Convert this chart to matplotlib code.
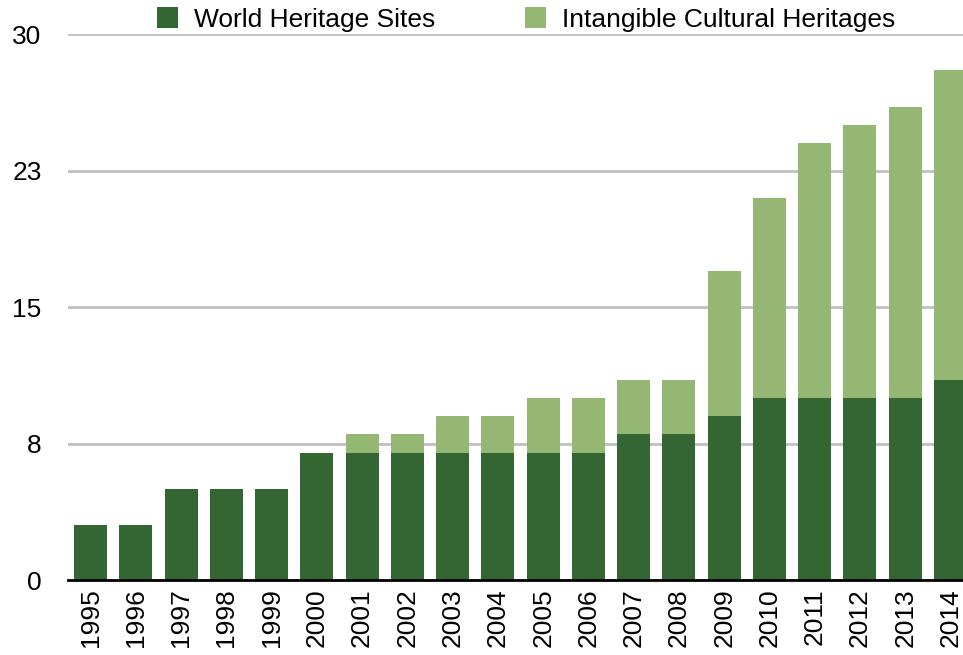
import matplotlib
matplotlib.use("Agg")
import matplotlib.pyplot as plt
import numpy as np

years = [str(y) for y in range(1995, 2015)]
world_sites = [3, 3, 5, 5, 5, 7, 7, 7, 7, 7, 7, 7, 8, 8, 9, 10, 10, 10, 10, 11]
intangible = [0, 0, 0, 0, 0, 0, 1, 1, 2, 2, 3, 3, 3, 3, 8, 11, 14, 15, 16, 17]
ytick_vals = [0, 7.5, 15, 22.5, 30]
ytick_labels = ["0", "8", "15", "23", "30"]

plt.rcParams["font.family"] = ["Liberation Sans", "DejaVu Sans"]

fig = plt.figure(figsize=(9.63, 6.55), dpi=100)
# axes runs a bit past the right edge, like the original (last bar is clipped)
ax = fig.add_axes([0.0705, 0.1145, 0.94, 0.8335])

x = np.arange(len(years))
ax.bar(x, world_sites, width=0.73, color="#336633", label="World Heritage Sites", zorder=3)
ax.bar(x, intangible, width=0.73, bottom=world_sites, color="#94b874",
       label="Intangible Cultural Heritages", zorder=3)

ax.set_xlim(-0.5, len(years) - 0.5)
ax.set_ylim(0, 30)
ax.set_yticks(ytick_vals)
ax.set_yticklabels(ytick_labels, fontsize=19)
ax.set_xticks(x)
ax.set_xticklabels(years, rotation=90, fontsize=19)
ax.tick_params(axis="both", length=0)
ax.tick_params(axis="y", pad=19)
ax.tick_params(axis="x", pad=6)

ax.yaxis.grid(True, color="#c0c0c0", linewidth=2)
ax.set_axisbelow(True)
for s in ["left", "right", "top"]:
    ax.spines[s].set_visible(False)
ax.spines["bottom"].set_linewidth(2)
ax.spines["bottom"].set_zorder(4)

fig.legend(loc="upper center", bbox_to_anchor=(0.546, 1.025), ncol=2, frameon=False,
           fontsize=19, handlelength=0.8, handleheight=0.8, columnspacing=3.4,
           handletextpad=0.6)

plt.savefig("out.png", dpi=100)
